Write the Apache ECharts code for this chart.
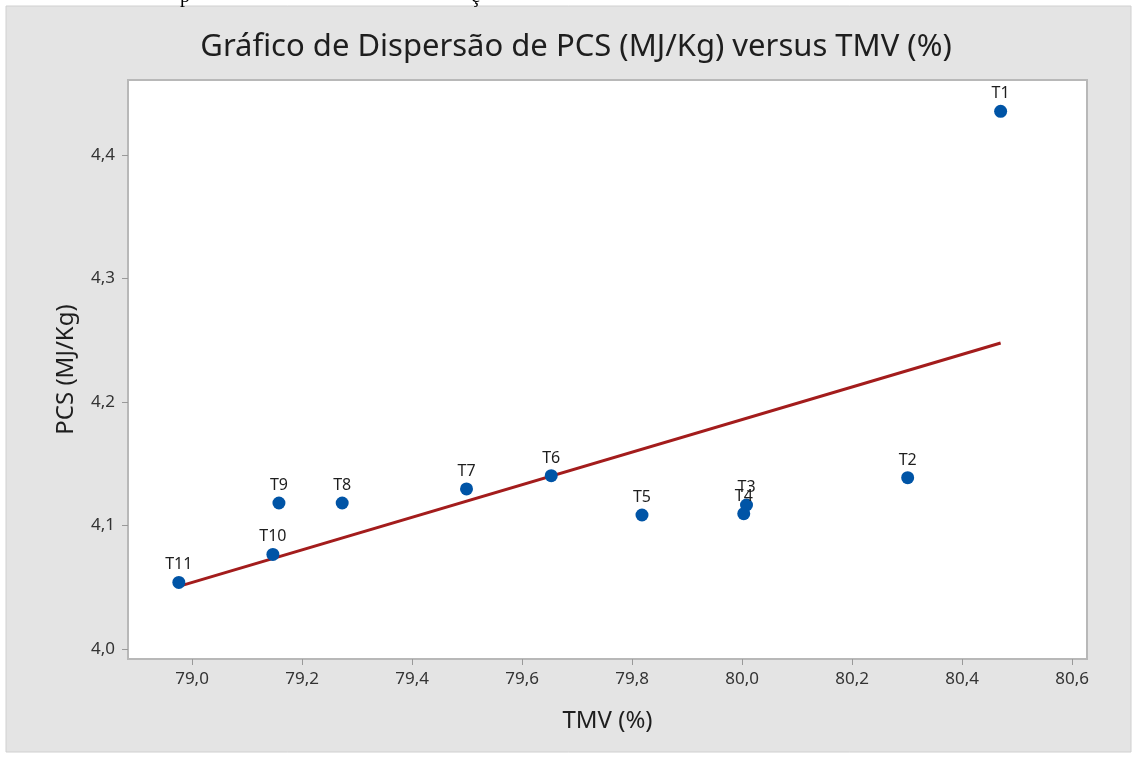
<!DOCTYPE html>
<html>
<head>
<meta charset="utf-8">
<script src="https://cdn.jsdelivr.net/npm/echarts@6/dist/echarts.min.js"></script>
<style>
html,body{margin:0;padding:0;background:#ffffff;}
#chart{width:1136px;height:758px;}
</style>
</head>
<body>
<div id="chart"></div>
<script>
// Data
var pointNames = ['T1','T2','T3','T4','T5','T6','T7','T8','T9','T10','T11'];
var tmvValues  = [80.470, 80.301, 80.008, 80.003, 79.818, 79.653, 79.499, 79.273, 79.158, 79.147, 78.976];
var pcsValues  = [4.4353, 4.1387, 4.1166, 4.1096, 4.1085, 4.1403, 4.1296, 4.1182, 4.1182, 4.0766, 4.0539];
var fitLineX   = [78.976, 80.470];
var fitLineY   = [4.0507, 4.2478];
var xTicks     = [79.0, 79.2, 79.4, 79.6, 79.8, 80.0, 80.2, 80.4, 80.6];
var yTicks     = [4.0, 4.1, 4.2, 4.3, 4.4];

var scatterData = tmvValues.map(function(x, i){ return [x, pcsValues[i], pointNames[i]]; });
var lineData = fitLineX.map(function(x, i){ return [x, fitLineY[i]]; });

function comma(v){ return v.toFixed(1).replace('.', ','); }

var font = 'Noto Sans';
var chart = echarts.init(document.getElementById('chart'), null, {renderer:'canvas'});
chart.setOption({
  animation:false,
  backgroundColor:'#ffffff',
  graphic:[
    {type:'rect', shape:{x:6, y:6, width:1125, height:746}, style:{fill:'#e4e4e4', stroke:'#d0d0d0', lineWidth:1}, z:-10},
    {type:'text', x:180, y:-13, style:{text:'p', font:'20px "Liberation Serif"', fill:'#000'}},
    {type:'text', x:471, y:-13, style:{text:'ç', font:'20px "Liberation Serif"', fill:'#000'}}
  ],
  title:{
    text:'Gráfico de Dispersão de PCS (MJ/Kg) versus TMV (%)',
    left:571, top:27, textAlign:'center',
    textStyle:{fontFamily:font, fontSize:31, fontWeight:'normal', color:'#1e1e1e'}
  },
  grid:{
    left:128, top:80, right:49, bottom:99,
    show:true, backgroundColor:'#ffffff', borderColor:'#b8b8b8', borderWidth:2
  },
  xAxis:{
    type:'value', min:78.8836, max:80.627,
    name:'TMV (%)', nameLocation:'middle', nameGap:50,
    nameTextStyle:{fontFamily:font, fontSize:24, color:'#1e1e1e'},
    axisLine:{show:false},
    axisTick:{show:true, customValues:xTicks, length:6, lineStyle:{color:'#999'}},
    axisLabel:{customValues:xTicks, formatter:function(v){return comma(v);}, fontFamily:font, fontSize:17, color:'#333', margin:12},
    splitLine:{show:false}
  },
  yAxis:{
    type:'value', min:3.9919, max:4.4607,
    name:'PCS (MJ/Kg)', nameLocation:'middle', nameGap:50,
    nameTextStyle:{fontFamily:font, fontSize:24, color:'#1e1e1e'},
    axisLine:{show:false},
    axisTick:{show:true, customValues:yTicks, length:6, lineStyle:{color:'#999'}},
    axisLabel:{customValues:yTicks, formatter:function(v){return comma(v);}, fontFamily:font, fontSize:17, color:'#333', margin:13},
    splitLine:{show:false}
  },
  series:[
    {
      type:'line', data:lineData, symbol:'none', z:2,
      lineStyle:{color:'#a31c1c', width:3}
    },
    {
      type:'scatter', data:scatterData, symbolSize:13, z:5,
      itemStyle:{color:'#0054a6', opacity:1},
      label:{show:true, position:'top', distance:3, formatter:function(p){return p.value[2];},
        fontFamily:font, fontSize:16, color:'#1e1e1e'}
    }
  ]
});
</script>
</body>
</html>
